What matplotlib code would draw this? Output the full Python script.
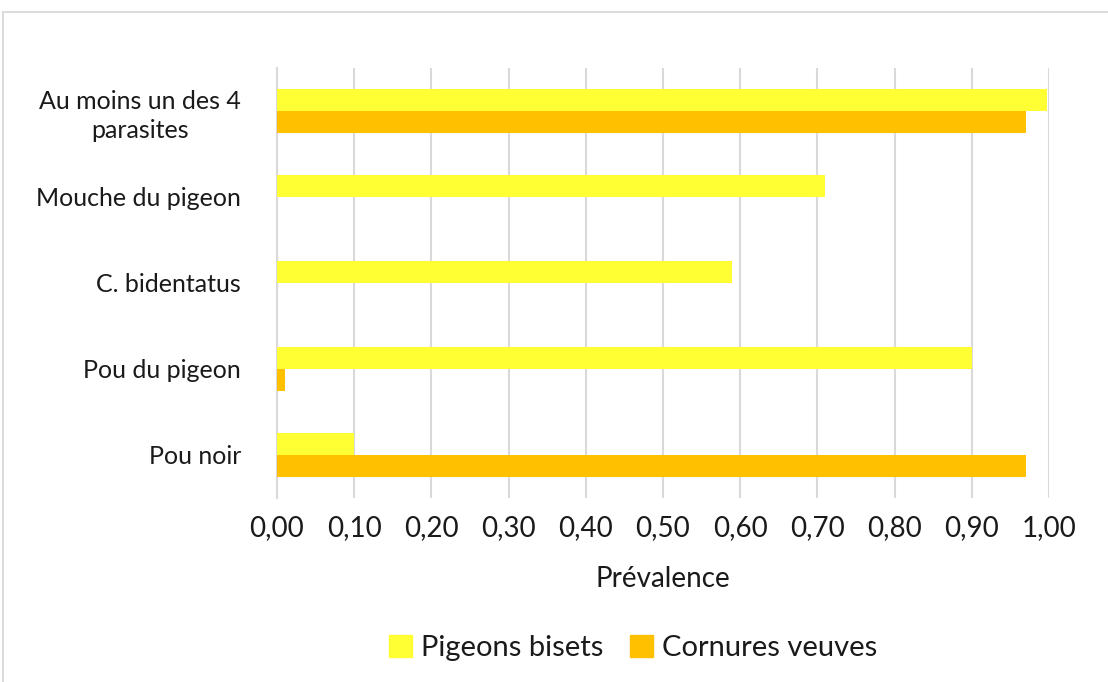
import matplotlib.pyplot as plt
from matplotlib.patches import Rectangle, Patch
from matplotlib.ticker import FuncFormatter

plt.rcParams['font.family'] = ['Lato', 'DejaVu Sans']

# data (bottom to top)
categories = ['Pou noir', 'Pou du pigeon', 'C. bidentatus', 'Mouche du pigeon',
              'Au moins un des 4\nparasites']
pigeons_bisets = [0.10, 0.90, 0.59, 0.71, 0.997]
cornures_veuves = [0.97, 0.01, 0.0, 0.0, 0.97]
series_names = ['Pigeons bisets', 'Cornures veuves']

yellow = '#FFFF33'
orange = '#FFC000'
grid_c = '#D9D9D9'
txt_c = '#1a1a1a'

fig = plt.figure(figsize=(11.08, 6.82), dpi=100)
ax = fig.add_axes([277/1108, 184/682, 772/1108, 430/682])

h = 0.256
ys = list(range(len(categories)))
ax.barh([y + h/2 for y in ys], pigeons_bisets, height=h, color=yellow, zorder=3)
ax.barh([y - h/2 for y in ys], cornures_veuves, height=h, color=orange, zorder=3)

ax.set_xlim(0, 1.0)
ax.set_ylim(-0.5, len(categories) - 0.5)
ax.set_xticks([i / 10 for i in range(11)])
ax.xaxis.set_major_formatter(FuncFormatter(lambda v, p: f'{v:.2f}'.replace('.', ',')))
ax.set_yticks(ys)
ax.set_yticklabels(categories, multialignment='center', linespacing=1.3)
ax.tick_params(axis='both', length=0, colors=txt_c)
ax.tick_params(axis='x', pad=12, labelsize=20)
ax.tick_params(axis='y', pad=26, labelsize=18)
ax.grid(axis='x', color=grid_c, linewidth=1.5, zorder=0)
for s in ['top', 'right', 'bottom']:
    ax.spines[s].set_visible(False)
ax.spines['left'].set_color(grid_c)
ax.spines['left'].set_linewidth(1.5)
ax.set_xlabel('Prévalence', fontsize=20, color=txt_c, labelpad=18)

handles = [Patch(color=yellow), Patch(color=orange)]
fig.legend(handles, series_names, loc='center', bbox_to_anchor=(633/1108, 1 - 648/682),
           ncol=2, frameon=False, fontsize=21, handlelength=0.8, handleheight=0.8,
           handletextpad=0.3, columnspacing=0.9, labelcolor=txt_c)

# chart border (cropped on right/bottom)
fig.patches.append(Rectangle((3.5/1108, -0.1), 1.2, 1 - 11.5/682 + 0.1,
                             transform=fig.transFigure, fill=False,
                             edgecolor=grid_c, linewidth=1.3))

fig.savefig('out.png', dpi=100)
